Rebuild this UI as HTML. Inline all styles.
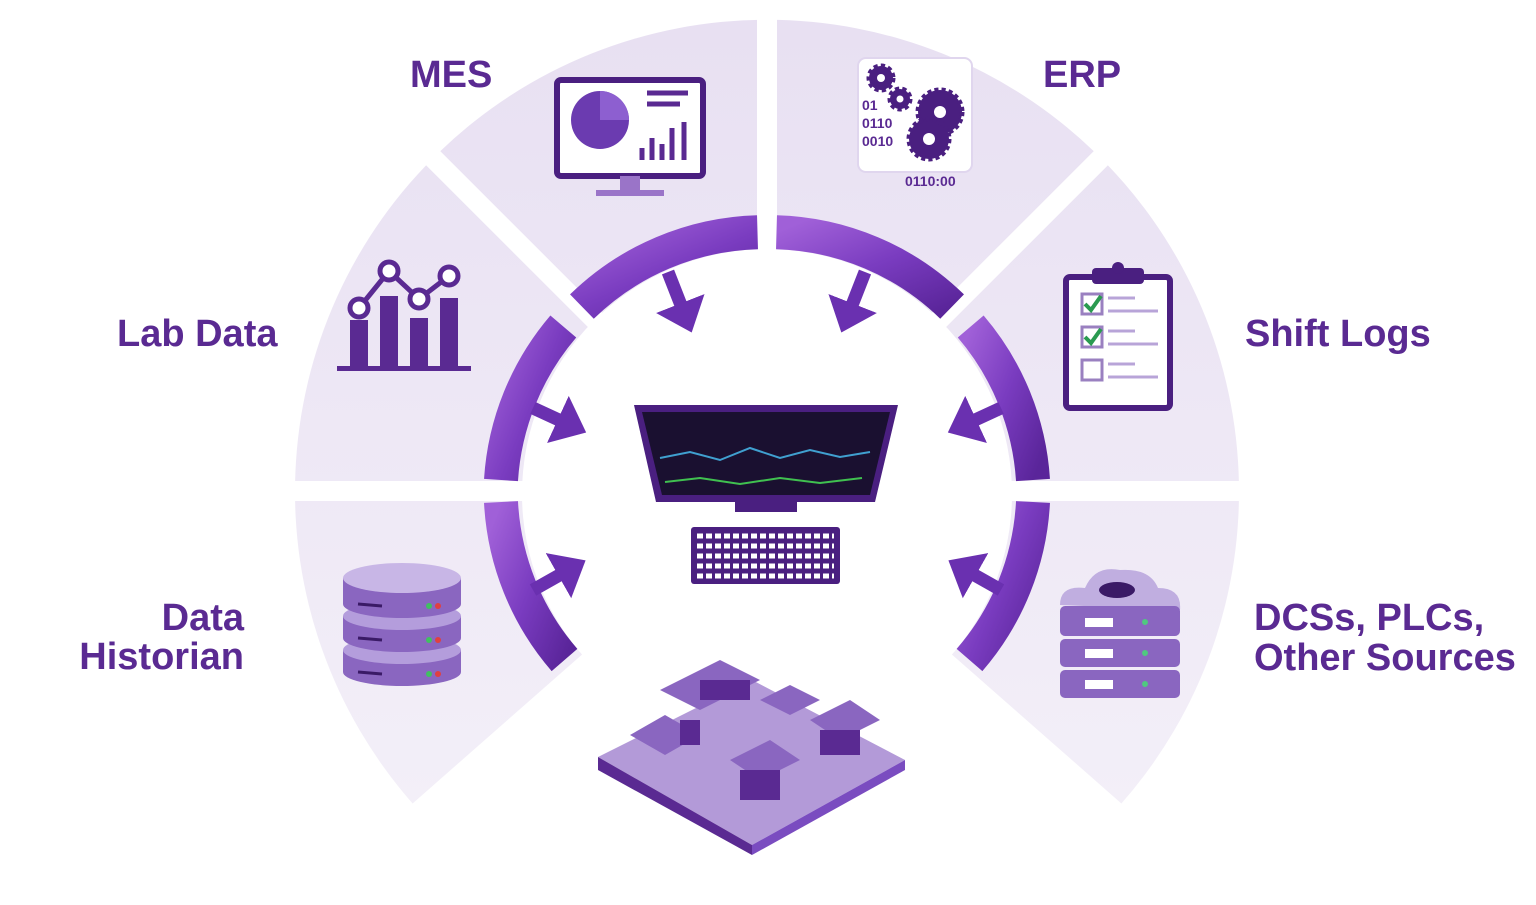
<!DOCTYPE html>
<html><head><meta charset="utf-8"><style>
html,body{margin:0;padding:0;background:#fff;}
svg{display:block}
text{font-family:"Liberation Sans",sans-serif;font-weight:bold;fill:#5a2a92;}
</style></head><body>
<svg width="1536" height="905" viewBox="0 0 1536 905" xmlns="http://www.w3.org/2000/svg">
<defs>
<linearGradient id="wl" x1="0" y1="0" x2="0" y2="1"><stop offset="0" stop-color="#e8e0f2"/><stop offset="1" stop-color="#f3eff8"/></linearGradient>
<linearGradient id="rg" x1="0" y1="0" x2="1" y2="1"><stop offset="0" stop-color="#a060d8"/><stop offset="0.5" stop-color="#7a3cc0"/><stop offset="1" stop-color="#5a259a"/></linearGradient>
<marker id="ah" markerWidth="4" markerHeight="4" refX="1.2" refY="2" orient="auto" markerUnits="strokeWidth"><path d="M0,0 L2.4,2 L0,4 Z" fill="#6a30b0"/></marker>
</defs>
<path d="M767,492 L412.6,803.5 A472,472 0 1 1 1121.4,803.5 Z" fill="url(#wl)"/>
<g stroke="#fff" stroke-width="20">
<line x1="767" y1="492" x2="767" y2="0"/>
<line x1="767" y1="491" x2="250" y2="491"/>
<line x1="767" y1="491" x2="1290" y2="491"/>
<line x1="767" y1="492" x2="400" y2="125"/>
<line x1="767" y1="492" x2="1134" y2="125"/>
</g>
<circle cx="767" cy="494" r="245" fill="#fff"/>
<g fill="none" stroke="url(#rg)" stroke-width="34">
<path d="M757.5,232.2 A262,262 0 0 0 581.9,306.6" />
<path d="M563.3,326.5 A262,262 0 0 0 501.0,480" />
<path d="M501.0,502 A262,262 0 0 0 564.5,660" />
<path d="M776.5,232.2 A262,262 0 0 1 952.1,306.6" />
<path d="M970.7,326.5 A262,262 0 0 1 1033.0,480" />
<path d="M1033.0,502 A262,262 0 0 1 969.5,660" />
</g>
<g stroke="#6a30b0" stroke-width="13" fill="none" marker-end="url(#ah)">
<line x1="668" y1="272" x2="686" y2="318"/>
<line x1="865" y1="272" x2="847" y2="318"/>
<line x1="533" y1="408" x2="572" y2="426"/>
<line x1="1001" y1="408" x2="962" y2="426"/>
<line x1="533" y1="590" x2="572" y2="568"/>
<line x1="1001" y1="590" x2="962" y2="568"/>
</g>
<g font-size="38">
<text x="410" y="87">MES</text>
<text x="1043" y="87">ERP</text>
<text x="117" y="346">Lab Data</text>
<text x="1245" y="346">Shift Logs</text>
<text x="244" y="630" text-anchor="end">Data</text>
<text x="244" y="669" text-anchor="end">Historian</text>
<text x="1254" y="630">DCSs, PLCs,</text>
<text x="1254" y="670">Other Sources</text>
</g>
<rect x="557" y="80" width="146" height="96" rx="4" fill="#fff" stroke="#4a1f80" stroke-width="6"/>
<circle cx="600" cy="120" r="29" fill="#6b3bb0"/>
<path d="M600,120 L600,91 A29,29 0 0 1 629,120 Z" fill="#8d5fd0"/>
<g stroke="#5a2a92" stroke-width="5"><line x1="647" y1="93" x2="688" y2="93"/><line x1="647" y1="104" x2="680" y2="104"/>
<line x1="642" y1="160" x2="642" y2="148"/><line x1="652" y1="160" x2="652" y2="138"/><line x1="662" y1="160" x2="662" y2="144"/><line x1="672" y1="160" x2="672" y2="128"/><line x1="684" y1="160" x2="684" y2="122"/></g>
<rect x="620" y="176" width="20" height="14" fill="#9a74c8"/><rect x="596" y="190" width="68" height="6" fill="#9a74c8"/>
<rect x="858" y="58" width="114" height="114" rx="8" fill="#fff" stroke="#e0d6ee" stroke-width="2"/>
<g fill="#4a1f80" stroke="#4a1f80" stroke-width="5" stroke-dasharray="4,3"><circle cx="881" cy="78" r="12"/><circle cx="900" cy="99" r="10"/><circle cx="940" cy="112" r="22"/><circle cx="929" cy="139" r="20"/></g>
<g fill="#fff"><circle cx="881" cy="78" r="4"/><circle cx="900" cy="99" r="3.5"/><circle cx="940" cy="112" r="6"/><circle cx="929" cy="139" r="6"/></g>
<g font-size="14" style="fill:#2d1450"><text x="862" y="110">01</text><text x="862" y="128">0110</text><text x="862" y="146">0010</text><text x="905" y="186">0110:00</text></g>
<g fill="#5a2a92"><rect x="350" y="320" width="18" height="48"/><rect x="380" y="296" width="18" height="72"/><rect x="410" y="318" width="18" height="50"/><rect x="440" y="298" width="18" height="70"/><rect x="337" y="366" width="134" height="5"/></g>
<polyline points="359,308 389,271 419,299 449,276" fill="none" stroke="#5a2a92" stroke-width="5"/>
<g fill="#fff" stroke="#5a2a92" stroke-width="5"><circle cx="359" cy="308" r="9"/><circle cx="389" cy="271" r="9"/><circle cx="419" cy="299" r="9"/><circle cx="449" cy="276" r="9"/></g>
<rect x="1066" y="277" width="104" height="131" rx="4" fill="#fff" stroke="#4a1f80" stroke-width="6"/>
<rect x="1092" y="268" width="52" height="16" rx="4" fill="#4a1f80"/><circle cx="1118" cy="268" r="6" fill="#4a1f80"/>
<g fill="#fff" stroke="#9a80c0" stroke-width="3"><rect x="1082" y="294" width="20" height="20"/><rect x="1082" y="327" width="20" height="20"/><rect x="1082" y="360" width="20" height="20"/></g>
<g stroke="#2a9a50" stroke-width="4" fill="none"><polyline points="1085,304 1091,310 1101,296"/><polyline points="1085,337 1091,343 1101,329"/></g>
<g stroke="#b8a4d8" stroke-width="3"><line x1="1108" y1="298" x2="1135" y2="298"/><line x1="1108" y1="311" x2="1158" y2="311"/><line x1="1108" y1="331" x2="1135" y2="331"/><line x1="1108" y1="344" x2="1158" y2="344"/><line x1="1108" y1="364" x2="1135" y2="364"/><line x1="1108" y1="377" x2="1158" y2="377"/></g>
<g>
<path d="M343,650 L343,672 A59,14 0 0 0 461,672 L461,650 Z" fill="#8a66c0"/>
<ellipse cx="402" cy="650" rx="59" ry="14" fill="#b49ddc"/>
<path d="M343,616 L343,638 A59,14 0 0 0 461,638 L461,616 Z" fill="#8a66c0"/>
<ellipse cx="402" cy="616" rx="59" ry="14" fill="#b49ddc"/>
<path d="M343,578 L343,604 A59,14 0 0 0 461,604 L461,578 Z" fill="#8a66c0"/>
<ellipse cx="402" cy="578" rx="59" ry="15" fill="#c8b6e6"/>
<g stroke="#3a1a66" stroke-width="3"><line x1="358" y1="604" x2="382" y2="606"/><line x1="358" y1="638" x2="382" y2="640"/><line x1="358" y1="672" x2="382" y2="674"/></g>
<g fill="#e04040"><circle cx="438" cy="606" r="3"/><circle cx="438" cy="640" r="3"/><circle cx="438" cy="674" r="3"/></g>
<g fill="#40c060"><circle cx="429" cy="606" r="3"/><circle cx="429" cy="640" r="3"/><circle cx="429" cy="674" r="3"/></g>
</g>
<g>
<path d="M1060,605 Q1060,585 1085,588 Q1095,565 1120,570 Q1150,568 1158,588 Q1182,588 1180,610 Z" fill="#c0aee0"/>
<ellipse cx="1117" cy="590" rx="18" ry="8" fill="#3a1a66"/>
<rect x="1060" y="606" width="120" height="30" rx="5" fill="#8a66c0"/>
<rect x="1060" y="639" width="120" height="28" rx="5" fill="#8a66c0"/>
<rect x="1060" y="670" width="120" height="28" rx="5" fill="#8a66c0"/>
<g fill="#fff"><rect x="1085" y="618" width="28" height="9"/><rect x="1085" y="649" width="28" height="9"/><rect x="1085" y="680" width="28" height="9"/></g>
<g fill="#50c880"><circle cx="1145" cy="622" r="3"/><circle cx="1145" cy="653" r="3"/><circle cx="1145" cy="684" r="3"/></g>
</g>
<path d="M634,405 L898,405 L875,502 L656,502 Z" fill="#4a1f80"/>
<path d="M642,412 L890,412 L870,495 L662,495 Z" fill="#1a1030"/>
<polyline points="660,458 690,452 720,460 750,448 780,458 810,450 840,457 870,452" fill="none" stroke="#40a0d0" stroke-width="2"/>
<polyline points="665,482 700,478 740,484 780,478 820,483 862,478" fill="none" stroke="#40c050" stroke-width="2"/>
<rect x="735" y="502" width="62" height="10" fill="#4a1f80"/>
<rect x="691" y="527" width="149" height="57" rx="3" fill="#4a1f80"/>
<g stroke="#fff" stroke-width="5" stroke-dasharray="6,3"><line x1="697" y1="536" x2="834" y2="536"/><line x1="697" y1="546" x2="834" y2="546"/><line x1="697" y1="556" x2="834" y2="556"/><line x1="697" y1="566" x2="834" y2="566"/><line x1="697" y1="576" x2="834" y2="576"/></g>
<polygon points="598,757 752,845 905,760 752,680" fill="#b39ad8"/>
<polygon points="598,757 598,770 752,855 752,845" fill="#5a2a92"/>
<polygon points="752,845 752,855 905,770 905,760" fill="#7a4cc0"/>
<g fill="#8a66c0">
<polygon points="630,735 665,715 700,735 665,755"/>
<polygon points="660,690 720,660 760,680 700,710"/>
<polygon points="730,760 770,740 800,760 760,780"/>
<polygon points="810,720 850,700 880,720 840,740"/>
<polygon points="760,700 790,685 820,700 790,715"/>
</g>
<g fill="#5a2a92"><rect x="680" y="720" width="20" height="25"/><rect x="740" y="770" width="40" height="30"/><rect x="820" y="730" width="40" height="25"/><rect x="700" y="680" width="50" height="20"/></g>
</svg>
</body></html>
